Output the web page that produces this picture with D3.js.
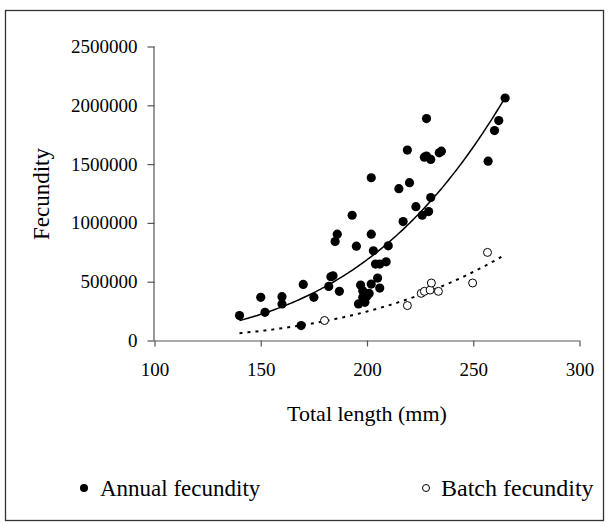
<!DOCTYPE html>
<html><head><meta charset="utf-8">
<script src="https://d3js.org/d3.v7.min.js"></script>
<style>body{margin:0;background:#fff}svg{display:block}
svg text{font-family:"Liberation Serif","Times New Roman",Times,"DejaVu Serif",serif !important;}</style>
</head><body>
<script>
// Annual fecundity: total length (mm)
const annualLength = [140,150,152,160,160,170,169,175,182,183,184,185,186,187,193,195,196,197,198,198,199,200,201,202,202,203,202,204,206,205,206,210,209,215,217,219,220,223,226,227,228,228,230,229,230,234,235,257,260,262,265];
// Annual fecundity values
const annualFecundity = [212000,367000,240000,373000,311000,477000,127000,367000,460000,542000,550000,842000,904000,418000,1065000,802000,311000,472000,424000,367000,325000,378000,400000,1384000,904000,763000,480000,650000,650000,531000,446000,805000,669000,1291000,1011000,1619000,1342000,1138000,1065000,1559000,1887000,1568000,1540000,1096000,1215000,1596000,1610000,1525000,1785000,1870000,2062000];
// Batch fecundity
const batchLength = [180,219,225.5,227,229.7,230.3,233.6,249.7,256.7];
const batchFecundity = [170000,297000,401000,418000,429000,489000,418000,489000,749000];
// Axes
const xTicks = [100,150,200,250,300];
const yTicks = [0,500000,1000000,1500000,2000000,2500000];
const trendRange = [140,265];
const legendLabels = ["Annual fecundity","Batch fecundity"];
const xTitle = "Total length (mm)";
const yTitle = "Fecundity";

const W = 609, H = 523;
const svg = d3.select("body").append("svg").attr("width",W).attr("height",H);

svg.append("rect").attr("x",5.5).attr("y",10.5).attr("width",598).attr("height",510)
  .attr("fill","none").attr("stroke","#333").attr("stroke-width",1.3);

const x = d3.scaleLinear().domain([100,300]).range([154.5,579.5]);
const y = d3.scaleLinear().domain([0,2500000]).range([340.5,46.5]);

const axisColor = "#555";
const gx = svg.append("g").attr("transform",`translate(0,${y(0)})`)
  .call(d3.axisBottom(x).tickValues(xTicks).tickSize(6).tickPadding(16).tickFormat(d3.format("d")));
const gy = svg.append("g").attr("transform",`translate(${x(100)},0)`)
  .call(d3.axisLeft(y).tickValues(yTicks).tickSize(7).tickPadding(10).tickFormat(d3.format("d")));
[gx,gy].forEach(g=>{
  g.attr("font-family",null);
  g.select(".domain").attr("stroke",axisColor).attr("stroke-width",1.2);
  g.selectAll(".tick line").attr("stroke",axisColor).attr("stroke-width",1.2);
  g.selectAll(".tick text").attr("font-size",19).attr("fill","#000");
});
gx.select(".domain").attr("d",`M${x(100)},0.5H${x(300)}`);
gy.select(".domain").attr("d",`M-0.5,${y(0)}V${y(2500000)}`);

svg.append("text").attr("x",(x(100)+x(300))/2).attr("y",421).attr("text-anchor","middle")
  .attr("font-size",22).text(xTitle);
svg.append("text").attr("transform",`translate(49,${194}) rotate(-90)`).attr("text-anchor","middle")
  .attr("font-size",23).text(yTitle);

function powerFit(xs, ys){
  const lx = xs.map(Math.log), ly = ys.map(Math.log);
  const mx = d3.mean(lx), my = d3.mean(ly);
  let sxy=0,sxx=0;
  lx.forEach((v,i)=>{sxy+=(v-mx)*(ly[i]-my); sxx+=(v-mx)*(v-mx);});
  const b = sxy/sxx, a = Math.exp(my-b*mx);
  return xv => a*Math.pow(xv,b);
}
const fA = powerFit(annualLength, annualFecundity);
const fB = powerFit(batchLength, batchFecundity);
const xs = d3.range(trendRange[0], trendRange[1]+0.01, 1);
const line = f => d3.line().x(d=>x(d)).y(d=>y(f(d)))(xs);

svg.append("path").attr("d",line(fA)).attr("fill","none").attr("stroke","#000").attr("stroke-width",1.5);
svg.append("path").attr("d",line(fB)).attr("fill","none").attr("stroke","#000").attr("stroke-width",2)
  .attr("stroke-dasharray","3,5");

svg.append("g").selectAll("circle").data(annualLength).join("circle")
  .attr("cx",d=>x(d)).attr("cy",(d,i)=>y(annualFecundity[i])).attr("r",4.6).attr("fill","#000");
svg.append("g").selectAll("circle").data(batchLength).join("circle")
  .attr("cx",d=>x(d)).attr("cy",(d,i)=>y(batchFecundity[i])).attr("r",4).attr("fill","#fff")
  .attr("stroke","#000").attr("stroke-width",1);

const leg = svg.append("g");
leg.append("circle").attr("cx",84).attr("cy",488).attr("r",4).attr("fill","#000");
leg.append("text").attr("x",100).attr("y",496).attr("font-size",23).text(legendLabels[0]);
leg.append("circle").attr("cx",426).attr("cy",488).attr("r",3.5).attr("fill","#fff").attr("stroke","#000").attr("stroke-width",1);
leg.append("text").attr("x",441).attr("y",496).attr("font-size",24).text(legendLabels[1]);
</script>
</body></html>
